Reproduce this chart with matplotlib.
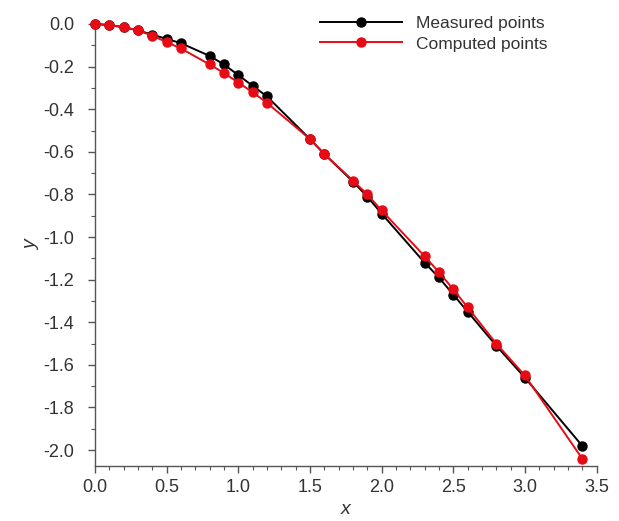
import matplotlib
matplotlib.use("Agg")
import matplotlib.pyplot as plt
from matplotlib.ticker import MultipleLocator, FormatStrFormatter

x_vals = [0.0, 0.1, 0.2, 0.3, 0.4, 0.5, 0.6, 0.8, 0.9, 1.0, 1.1, 1.2,
          1.5, 1.6, 1.8, 1.9, 2.0, 2.3, 2.4, 2.5, 2.6, 2.8, 3.0, 3.4]
measured_y = [0.0, -0.005, -0.015, -0.03, -0.05, -0.07, -0.09, -0.15, -0.19,
              -0.24, -0.29, -0.34, -0.54, -0.61, -0.74, -0.81, -0.89, -1.12,
              -1.19, -1.27, -1.35, -1.51, -1.66, -1.98]
computed_y = [0.0, -0.005, -0.015, -0.03, -0.055, -0.085, -0.115, -0.19, -0.23,
              -0.275, -0.32, -0.37, -0.54, -0.61, -0.735, -0.80, -0.875, -1.09,
              -1.165, -1.245, -1.33, -1.50, -1.65, -2.04]

plt.rcParams['font.family'] = ['Liberation Sans', 'DejaVu Sans']

W, H = 619, 521
fig = plt.figure(figsize=(W / 100, H / 100), dpi=100)
left, right, top, bottom = 95, 596.5, 24, 466
ax = fig.add_axes([left / W, 1 - bottom / H, (right - left) / W, (bottom - top) / H])

ax.plot(x_vals, measured_y, color='black', lw=1.4, marker='o', ms=6.5,
        label='Measured points', zorder=3, clip_on=False)
ax.plot(x_vals, computed_y, color='#e60b14', lw=1.4, marker='o', ms=6.5,
        label='Computed points', zorder=4, clip_on=False)

ax.set_xlim(0, 3.5)
ax.set_ylim(-2.075, 0)
ax.spines['top'].set_visible(False)
ax.spines['right'].set_visible(False)
for s in ('left', 'bottom'):
    ax.spines[s].set_color('#555555')
    ax.spines[s].set_linewidth(1.0)

ax.xaxis.set_major_locator(MultipleLocator(0.5))
ax.xaxis.set_minor_locator(MultipleLocator(0.1))
ax.yaxis.set_major_locator(MultipleLocator(0.2))
ax.yaxis.set_minor_locator(MultipleLocator(0.1))
ax.xaxis.set_major_formatter(FormatStrFormatter('%.1f'))
ax.yaxis.set_major_formatter(FormatStrFormatter('%.1f'))

ax.tick_params(which='major', direction='out', length=5, width=1, color='#555555',
               labelsize=13, labelcolor='#333333')
ax.tick_params(which='minor', direction='out', length=3, width=0.8, color='#555555')
ax.tick_params(axis='y', which='major', pad=10)
ax.tick_params(axis='x', which='major', pad=4)

ax.set_xlabel('x', fontsize=14, style='italic', color='#333333', labelpad=4)
ax.set_ylabel('y', fontsize=14, style='italic', color='#333333', labelpad=2)

leg = ax.legend(loc='upper left', bbox_to_anchor=(320 / W, 1 - 16 / H),
                bbox_transform=fig.transFigure, frameon=False, fontsize=12.5,
                handlelength=4.7, handletextpad=0.85, labelspacing=0.3,
                borderpad=0, borderaxespad=0)
for t in leg.get_texts():
    t.set_color('#333333')

fig.savefig('out.png', dpi=100)
